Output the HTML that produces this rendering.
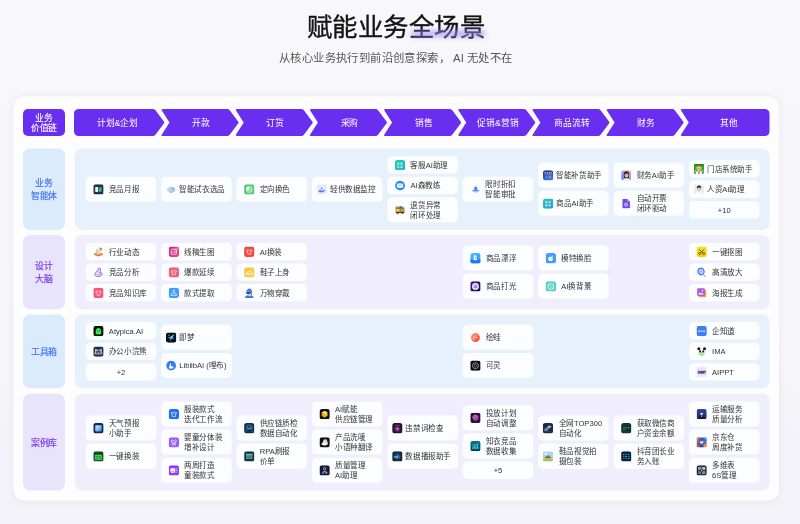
<!DOCTYPE html>
<html lang="zh-CN">
<head>
<meta charset="utf-8">
<title>赋能业务全场景</title>
<style>
html,body{margin:0;padding:0;}
body{width:800px;height:524px;overflow:hidden;background:linear-gradient(180deg,#f8f8fa 0%,#f7f7fa 45%,#f3f2f9 100%);position:relative;}
#stage{position:absolute;left:0;top:0;width:8000px;height:5240px;transform:scale(0.1);transform-origin:0 0;font-family:"Liberation Sans", sans-serif;color:#333;overflow:hidden;}
#stage div,#stage p,#stage h1,#stage svg{position:absolute;margin:0;}
h1{left:0;top:121px;width:7916px;text-align:center;font-size:255px;line-height:300px;font-weight:normal;color:#141414;-webkit-text-stroke:3.8px #141414;}
.glow{left:4110px;top:305px;width:740px;height:65px;border-radius:35px;background:linear-gradient(90deg,rgba(160,135,250,.62),rgba(150,140,250,.68));filter:blur(26px);}
.sub{left:0;top:508px;width:7915px;text-align:center;font-size:113.8px;line-height:150px;color:#555;}
.card{left:135px;top:965px;width:7655px;height:4040px;background:#fdfdfe;border-radius:110px;box-shadow:0 0 70px rgba(90,90,140,.085);}
.hl{left:230px;top:1090px;width:420px;height:270px;border-radius:50px;background:#6a2ef0;color:#fff;font-size:88px;line-height:105px;text-align:center;-webkit-text-stroke:1px #fff;}
.hl span{position:absolute;left:0;right:0;}
.at{top:1091px;height:270px;line-height:270px;color:#fff;font-size:88px;text-align:center;white-space:nowrap;transform:translateX(-50%);}
.lab{left:230px;width:420px;border-radius:70px;font-size:89px;line-height:120px;text-align:center;}
.lab span{position:absolute;left:0;right:0;}
.lab.b{background:#dcebfb;color:#4373f4;-webkit-text-stroke:1.8px #4373f4;}
.lab.p{background:#e8e4fb;color:#7a3af0;-webkit-text-stroke:1.8px #7a3af0;}
.pan{left:750px;width:6945px;border-radius:70px;}
.pan.b{background:#e7f1fb;}
.pan.p{background:#f0eefd;}
.chip{width:705px;background:#fcfdff;border-radius:46px;font-size:76px;line-height:101px;color:#333;white-space:nowrap;}
.chip svg{width:103px;height:103px;}
.chip span{position:absolute;}
.chip.c span{left:0;right:0;text-align:center;}
</style>
</head>
<body>
<div id="stage">
<h1>赋能业务全场景</h1>
<div class="glow"></div>
<p class="sub">从核心业务执行到前沿创意探索， AI 无处不在</p>
<div class="card"></div>
<div class="hl"><span style="top:33px">业务</span><span style="top:138px">价值链</span></div>
<svg style="left:0;top:0;width:8000px;height:5240px" viewBox="0 0 800 524" fill="#6a2ef0"><path d="M79 109 H152.8 Q154.5 109 155.45 110.3 L164.05 121.8 Q164.6 122.5 164.05 123.2 L155.45 134.7 Q154.5 136 152.8 136 H79 Q74 136 74 131 V114 Q74 109 79 109 Z"/><path d="M162.95 109 H227.05 Q228.75 109 229.7 110.3 L238.3 121.8 Q238.85 122.5 238.3 123.2 L229.7 134.7 Q228.75 136 227.05 136 H162.95 Q160.75 136 161.85 134.5 L169.5 122.5 L161.85 110.5 Q160.75 109 162.95 109 Z"/><path d="M237.13 109 H301.23 Q302.93 109 303.88 110.3 L312.48 121.8 Q313.03 122.5 312.48 123.2 L303.88 134.7 Q302.93 136 301.23 136 H237.13 Q234.93 136 236.03 134.5 L243.68 122.5 L236.03 110.5 Q234.93 109 237.13 109 Z"/><path d="M311.31 109 H375.41 Q377.11 109 378.06 110.3 L386.66 121.8 Q387.21 122.5 386.66 123.2 L378.06 134.7 Q377.11 136 375.41 136 H311.31 Q309.11 136 310.21 134.5 L317.86 122.5 L310.21 110.5 Q309.11 109 311.31 109 Z"/><path d="M385.49 109 H449.59 Q451.29 109 452.24 110.3 L460.84 121.8 Q461.39 122.5 460.84 123.2 L452.24 134.7 Q451.29 136 449.59 136 H385.49 Q383.29 136 384.39 134.5 L392.04 122.5 L384.39 110.5 Q383.29 109 385.49 109 Z"/><path d="M459.67 109 H523.77 Q525.47 109 526.42 110.3 L535.02 121.8 Q535.57 122.5 535.02 123.2 L526.42 134.7 Q525.47 136 523.77 136 H459.67 Q457.47 136 458.57 134.5 L466.22 122.5 L458.57 110.5 Q457.47 109 459.67 109 Z"/><path d="M533.85 109 H597.95 Q599.65 109 600.6 110.3 L609.2 121.8 Q609.75 122.5 609.2 123.2 L600.6 134.7 Q599.65 136 597.95 136 H533.85 Q531.65 136 532.75 134.5 L540.4 122.5 L532.75 110.5 Q531.65 109 533.85 109 Z"/><path d="M608.03 109 H672.13 Q673.83 109 674.78 110.3 L683.38 121.8 Q683.93 122.5 683.38 123.2 L674.78 134.7 Q673.83 136 672.13 136 H608.03 Q605.83 136 606.93 134.5 L614.58 122.5 L606.93 110.5 Q605.83 109 608.03 109 Z"/><path d="M682.21 109 H764.5 Q769.5 109 769.5 114 V131 Q769.5 136 764.5 136 H682.21 Q680.01 136 681.11 134.5 L688.76 122.5 L681.11 110.5 Q680.01 109 682.21 109 Z"/></svg>
<div class="at" style="left:1175px">计划&amp;企划</div>
<div class="at" style="left:2011px">开款</div>
<div class="at" style="left:2752.8px">订货</div>
<div class="at" style="left:3494.6px">采购</div>
<div class="at" style="left:4236.4px">销售</div>
<div class="at" style="left:4978.2px">促销&amp;营销</div>
<div class="at" style="left:5720px">商品流转</div>
<div class="at" style="left:6461.8px">财务</div>
<div class="at" style="left:7286px">其他</div>
<div class="lab b" style="top:1485px;height:815px"><span style="top:285.5px">业务</span><span style="top:413.5px">智能体</span></div>
<div class="pan b" style="top:1485px;height:815px"></div>
<div class="chip" style="left:857.5px;top:1767.5px;height:250px"><svg viewBox="0 0 24 24" style="left:75.5px;top:75.5px"><rect width="24" height="24" rx="6.2" fill="#1f2f57"/><rect x="4.5" y="6" width="6.5" height="12" rx="1" fill="#f4f7fb"/><rect x="12.2" y="6" width="7.3" height="12" rx="1" fill="#2e9e5b"/><path d="M13.5 15.5 L15.5 12.5 L16.8 13.8 L18.8 9.5" stroke="#8ff0a8" stroke-width="1.3" fill="none"/></svg><span style="left:231px;top:77.5px">竞品月报</span></div>
<div class="chip" style="left:1611.5px;top:1767.5px;height:250px"><svg viewBox="0 0 24 24" style="left:48.5px;top:75.5px"><path d="M3 11 L11 6 L21 9 L20 16 L11 20 L4 16 Z" fill="#e2f3f2"/><path d="M3 11 L11 6 L21 9 L12 12.5 Z" fill="#b7e2e3"/><path d="M12 12.5 L21 9 L20 16 L11 20 Z" fill="#b9bfee" opacity=".85"/><path d="M3 11 L11 6 L21 9 L20 16 L11 20 L4 16 Z M12 12.5 L11 20" fill="none" stroke="#7fb6c4" stroke-width="1"/><path d="M6 12.4 L9.6 14 L9.2 17" stroke="#5fae7a" stroke-width="1.5" fill="none"/><circle cx="15.2" cy="10" r="1.9" fill="#7a74d6"/></svg><span style="left:181px;top:77.5px">智能试衣选品</span></div>
<div class="chip" style="left:2365.5px;top:1767.5px;height:250px"><svg viewBox="0 0 24 24" style="left:75.5px;top:75.5px"><rect width="24" height="24" rx="6.2" fill="#4fcb73"/><rect x="6" y="5.8" width="12" height="12.4" rx="1.8" fill="none" stroke="#fff" stroke-width="1.7"/><rect x="6.5" y="6.3" width="5.5" height="7.2" fill="#fff"/><circle cx="14.8" cy="10" r="1.4" fill="#fff"/><path d="M6.5 15.2 H17.5" stroke="#fff" stroke-width="1.4"/></svg><span style="left:231px;top:77.5px">定向换色</span></div>
<div class="chip" style="left:3119.5px;top:1767.5px;height:250px"><svg viewBox="0 0 24 24" style="left:48.5px;top:75.5px"><rect width="24" height="24" rx="6.2" fill="#e6ebfb"/><path d="M8.5 9.5 C9.5 6.5 14.5 6.5 15.5 9.5 C14 11 10 11 8.5 9.5 Z" fill="#7fa3f5"/><path d="M4.5 14.5 C7 12.5 9 13 11 14.2 C13 15.2 15 13.8 17 13 C18.5 12.5 19.8 13.2 19.5 14.5 C17 17.5 13 19.5 9 18.6 L4.5 17.8 Z" fill="#4f7df0"/><path d="M11 8 V12" stroke="#3f6ae0" stroke-width="1.3"/></svg><span style="left:181px;top:77.5px">轻供数据监控</span></div>
<div class="chip" style="left:3873.5px;top:1562px;height:174px"><svg viewBox="0 0 24 24" style="left:75.5px;top:37.5px"><defs><linearGradient id="g1" x1="0" y1="0" x2="1" y2="1"><stop offset="0" stop-color="#20d29a"/><stop offset="1" stop-color="#22aede"/></linearGradient></defs><rect width="24" height="24" rx="6.2" fill="url(#g1)"/><path d="M5.6 6.8 H10.2 M7.8999999999999995 5.8 V6.8 M6.0 8.4 H9.8 V10.399999999999999 H6.0 Z M6.0 9.4 H9.8" stroke="#fff" stroke-width=".95" fill="none"/><path d="M13.0 6.8 H17.6 M15.3 5.8 V6.8 M13.4 8.4 H17.2 V10.399999999999999 H13.4 Z M13.4 9.4 H17.2" stroke="#fff" stroke-width=".95" fill="none"/><path d="M5.6 14.2 H10.2 M7.8999999999999995 13.2 V14.2 M6.0 15.799999999999999 H9.8 V17.799999999999997 H6.0 Z M6.0 16.8 H9.8" stroke="#fff" stroke-width=".95" fill="none"/><path d="M13.0 14.2 H17.6 M15.3 13.2 V14.2 M13.4 15.799999999999999 H17.2 V17.799999999999997 H13.4 Z M13.4 16.8 H17.2" stroke="#fff" stroke-width=".95" fill="none"/></svg><span style="left:231px;top:39.5px">客服AI助理</span></div>
<div class="chip" style="left:3873.5px;top:1767.5px;height:174px"><svg viewBox="0 0 24 24" style="left:75.5px;top:37.5px"><circle cx="12" cy="12" r="11.4" fill="#2d90e8"/><rect x="5.2" y="7" width="13.6" height="10" rx="1.6" fill="#fff"/><path d="M6.4 8.4 L12 12.8 L17.6 8.4" stroke="#2d90e8" stroke-width="1.2" fill="none"/><path d="M6.4 15.8 L10 12.4 M17.6 15.8 L14 12.4" stroke="#8fc4f4" stroke-width=".9" fill="none"/></svg><span style="left:231px;top:39.5px">AI森教练</span></div>
<div class="chip" style="left:3873.5px;top:1973px;height:250px"><svg viewBox="0 0 24 24" style="left:75.5px;top:75.5px"><path d="M2 4.5 H11 V3 H16 V6 H22 V18 H2 Z" fill="#7a5526"/><rect x="2" y="4.5" width="9" height="4" fill="#b98a30"/><rect x="3.2" y="9.4" width="8.2" height="6.6" fill="#ecc74e"/><rect x="4.6" y="10.8" width="2.6" height="2.6" fill="#fbe9a0"/><rect x="12.6" y="8" width="8.2" height="8" fill="#c9a040"/><rect x="15" y="4" width="3.4" height="6" fill="#2f8f7a"/><rect x="18.4" y="9.4" width="2.4" height="3" fill="#58c0a8"/><rect x="2" y="16.6" width="20" height="2.2" fill="#4a3218"/><rect x="4.4" y="17.4" width="4" height="4" fill="#3a2a16"/><rect x="15.6" y="17.4" width="4" height="4" fill="#3a2a16"/><rect x="5.4" y="18.4" width="2" height="2" fill="#d9b24a"/><rect x="16.6" y="18.4" width="2" height="2" fill="#d9b24a"/></svg><span style="left:231px;top:27px">退货异常<br>闭环处理</span></div>
<div class="chip" style="left:4627.5px;top:1767.5px;height:250px"><svg viewBox="0 0 24 24" style="left:78.5px;top:75.5px"><path d="M12 4.5 L17 10 H7 Z" fill="#3f6df0"/><rect x="9.8" y="8" width="4.4" height="5" fill="#3f6df0"/><path d="M3 14 L12 11 L21 14 L12 17.2 Z" fill="#5b8cf6"/><path d="M3 16.4 L12 19.8 L21 16.4 L21 14.6 L12 18 L3 14.6 Z" fill="#9ec0fb"/></svg><span style="left:226px;top:27px">限时折扣<br>智能审批</span></div>
<div class="chip" style="left:5381.5px;top:1626.75px;height:250px"><svg viewBox="0 0 24 24" style="left:48.5px;top:75.5px"><defs><linearGradient id="g2" x1="0" y1="0" x2="0.3" y2="1"><stop offset="0" stop-color="#1d2a66"/><stop offset="1" stop-color="#3f73dc"/></linearGradient></defs><rect width="24" height="24" rx="6.2" fill="url(#g2)"/><rect x="3.5" y="5" width="4" height="2.4" fill="#e8eefc"/><rect x="9" y="5" width="2.4" height="2.4" fill="#e8eefc"/><rect x="13" y="5" width="4" height="2.4" fill="#e8eefc"/><rect x="18.5" y="5" width="2.2" height="2.4" fill="#e8eefc"/><rect x="3.5" y="9" width="17" height="1.2" fill="#8fb0f0" opacity=".8"/><rect x="5" y="12.5" width="6" height="6" fill="#5f8ff0" opacity=".7"/><rect x="13" y="12.5" width="6" height="6" fill="#86b0ff" opacity=".7"/></svg><span style="left:181px;top:77.5px">智能补货助手</span></div>
<div class="chip" style="left:5381.5px;top:1908.25px;height:250px"><svg viewBox="0 0 24 24" style="left:48.5px;top:75.5px"><defs><linearGradient id="g3" x1="0" y1="0" x2="1" y2="1"><stop offset="0" stop-color="#23cf9c"/><stop offset="1" stop-color="#2a98ee"/></linearGradient></defs><rect width="24" height="24" rx="6.2" fill="url(#g3)"/><path d="M5.6 6.8 H10.2 M7.8999999999999995 5.8 V6.8 M6.0 8.4 H9.8 V10.399999999999999 H6.0 Z M6.0 9.4 H9.8" stroke="#fff" stroke-width=".95" fill="none"/><path d="M13.0 6.8 H17.6 M15.3 5.8 V6.8 M13.4 8.4 H17.2 V10.399999999999999 H13.4 Z M13.4 9.4 H17.2" stroke="#fff" stroke-width=".95" fill="none"/><path d="M5.6 14.2 H10.2 M7.8999999999999995 13.2 V14.2 M6.0 15.799999999999999 H9.8 V17.799999999999997 H6.0 Z M6.0 16.8 H9.8" stroke="#fff" stroke-width=".95" fill="none"/><path d="M13.0 14.2 H17.6 M15.3 13.2 V14.2 M13.4 15.799999999999999 H17.2 V17.799999999999997 H13.4 Z M13.4 16.8 H17.2" stroke="#fff" stroke-width=".95" fill="none"/></svg><span style="left:181px;top:77.5px">商品AI助手</span></div>
<div class="chip" style="left:6135.5px;top:1626.75px;height:250px"><svg viewBox="0 0 24 24" style="left:75.5px;top:75.5px"><defs><linearGradient id="g4" x1="0.9" y1="0" x2="0.1" y2="1"><stop offset="0" stop-color="#f0a2e0"/><stop offset="1" stop-color="#4f8cf6"/></linearGradient></defs><clipPath id="g4c"><rect width="24" height="24" rx="6.2"/></clipPath><g clip-path="url(#g4c)"><rect width="24" height="24" fill="url(#g4)"/><path d="M5 24 C5 19.5 8.5 18 12.6 18 C16.6 18 20 19.5 20.5 24 Z" fill="#f4f1f5"/><path d="M6.4 13 C5 5.6 9.4 2.6 12.8 2.6 C16.8 2.6 20.2 6 18.6 13.2 L18.2 18.6 H7 Z" fill="#33262c"/><ellipse cx="12.7" cy="11.8" rx="4.6" ry="5.5" fill="#f1c9b3"/><path d="M8.2 9.4 C9.8 6.2 15.4 5.8 17.4 9.6 C15 9 11.4 8.6 8.2 10.4 Z" fill="#33262c"/><path d="M8.8 11.6 H11.8 M13.6 11.6 H16.6" stroke="#5a4550" stroke-width="1.1"/><path d="M11.4 15 Q12.7 15.8 14 15" stroke="#c06a6a" stroke-width=".9" fill="none"/></g></svg><span style="left:231px;top:77.5px">财务AI助手</span></div>
<div class="chip" style="left:6135.5px;top:1908.25px;height:250px"><svg viewBox="0 0 24 24" style="left:75.5px;top:75.5px"><path d="M3.2 3.4 Q3.2 1.2 5.4 1.2 H14 L20.6 7.8 V20.8 Q20.6 23 18.4 23 H5.4 Q3.2 23 3.2 20.8 Z" fill="#6a48f2"/><path d="M14 1.2 L20.6 7.8 H16 Q14 7.8 14 5.8 Z" fill="#a996fa"/><circle cx="11.6" cy="14.4" r="3.6" fill="none" stroke="#fff" stroke-width="1.7"/><circle cx="11.6" cy="14.4" r="1.1" fill="#fff"/></svg><span style="left:231px;top:27px">自动开票<br>闭环驱动</span></div>
<div class="chip" style="left:6889.5px;top:1600px;height:174px"><svg viewBox="0 0 24 24" style="left:48.5px;top:37.5px"><clipPath id="g5"><rect width="24" height="24" rx="5"/></clipPath><g clip-path="url(#g5)"><rect width="24" height="24" fill="#2f9e41"/><rect x="0" y="0" width="24" height="4" fill="#257f34"/><path d="M5.5 10 C5.5 4.5 18.5 4.5 18.5 10 Z" fill="#f3d23a"/><rect x="4.5" y="9.4" width="15" height="2.2" fill="#e8b92a"/><rect x="7" y="11.6" width="10" height="6.4" fill="#f4cfa8"/><rect x="8.6" y="13.4" width="2" height="2" fill="#3a2a20"/><rect x="13.4" y="13.4" width="2" height="2" fill="#3a2a20"/><rect x="5" y="18" width="14" height="6" fill="#fff"/><rect x="10.5" y="18" width="3" height="6" fill="#d94a3a"/><rect x="2" y="14" width="3" height="6" fill="#8fd07a"/><rect x="19" y="14" width="3" height="6" fill="#8fd07a"/></g></svg><span style="left:181px;top:39.5px">门店系统助手</span></div>
<div class="chip" style="left:6889.5px;top:1805.5px;height:174px"><svg viewBox="0 0 24 24" style="left:48.5px;top:37.5px"><clipPath id="g6"><rect width="24" height="24" rx="5.5"/></clipPath><g clip-path="url(#g6)"><rect width="24" height="24" fill="#e9ebee"/><path d="M3.5 24 C3.5 18.5 8 17 12 17 C16 17 20.5 18.5 20.5 24 Z" fill="#fafafa"/><path d="M10 17 L12 20.5 L14 17 Z" fill="#d9c4b5"/><ellipse cx="12" cy="11" rx="4.2" ry="5.2" fill="#f2d3c0"/><path d="M7.2 10.5 C6.2 4.5 10 2.6 12.6 2.8 C16.5 3 18 6.5 16.9 10.8 C16 8.6 15 7.6 13.6 7 C12 8 9.5 8.4 8.2 8.6 Z" fill="#201c1e"/><path d="M9.3 11.3 H11 M13.2 11.3 H14.9" stroke="#4a3b3b" stroke-width=".9"/><path d="M10.6 14.3 Q12 15 13.4 14.3" stroke="#c47a70" stroke-width=".8" fill="none"/></g></svg><span style="left:181px;top:39.5px">人资AI助理</span></div>
<div class="chip c" style="left:6889.5px;top:2011px;height:174px"><span style="top:39.5px">+10</span></div>
<div class="lab p" style="top:2350px;height:742.5px"><span style="top:249.25px">设计</span><span style="top:377.25px">大脑</span></div>
<div class="pan p" style="top:2350px;height:742.5px"></div>
<div class="chip" style="left:857.5px;top:2428.75px;height:174px"><svg viewBox="0 0 24 24" style="left:75.5px;top:37.5px"><path d="M1.5 16.2 L12 12.6 L22.5 16.2 L12 20.4 Z" fill="#f79a4a"/><path d="M1.5 16.2 V18.8 L12 23 L22.5 18.8 V16.2 L12 20.4 Z" fill="#e86a1f"/><path d="M6 6.4 L12.6 4 L17.6 5.8 V15 L11 17.6 L6 15.6 Z" fill="#e6d8d2"/><path d="M6 6.4 L11 8.4 L17.6 5.8 L12.6 4 Z" fill="#fbf6f3"/><path d="M11 8.4 V17.6 L6 15.6 V6.4 Z" fill="#cfc0ba"/><path d="M14.6 1.6 L20.4 3.8 V9.2 L14.6 7.2 Z" fill="#f47b30"/><path d="M8 10.5 L9.6 11.2 M8 13 L9.6 13.7" stroke="#f7efe9" stroke-width="1"/></svg><span style="left:231px;top:39.5px">行业动态</span></div>
<div class="chip" style="left:857.5px;top:2634.25px;height:174px"><svg viewBox="0 0 24 24" style="left:75.5px;top:37.5px"><path d="M14.2 2.6 C10.6 3 9.4 6 11.4 8.4 C6.6 10 3.4 13.4 3.8 17.6 C4.2 21 8.6 22 13 21.6 C17.8 21.2 21 19 20.6 15.6 C20.2 12.8 17 12.4 14.4 13.4 C17 10.2 17.4 6.4 16 3.6 Z" fill="#eadffd" stroke="#9060f0" stroke-width="2.2" stroke-linejoin="round"/><path d="M7.6 16.4 C10.4 18.8 15.4 18.4 17.6 16" stroke="#a883f5" stroke-width="1.6" fill="none"/><path d="M14.2 2.6 L19 3.6 L16.2 5.6 Z" fill="#9060f0"/></svg><span style="left:231px;top:39.5px">竞品分析</span></div>
<div class="chip" style="left:857.5px;top:2839.75px;height:174px"><svg viewBox="0 0 24 24" style="left:75.5px;top:37.5px"><rect width="24" height="24" rx="6.2" fill="#f1597b"/><path transform="translate(12 12.3) scale(.93) translate(-12 -12)" d="M8.6 6.4 L5 8.6 L6.5 11.4 L8.2 10.6 V17.6 H15.8 V10.6 L17.5 11.4 L19 8.6 L15.4 6.4 C14.8 7.7 13.5 8.3 12 8.3 C10.5 8.3 9.2 7.7 8.6 6.4 Z" fill="none" stroke="#fff" stroke-width="1.35" stroke-linejoin="round"/></svg><span style="left:231px;top:39.5px">竞品知识库</span></div>
<div class="chip" style="left:1611.5px;top:2428.75px;height:174px"><svg viewBox="0 0 24 24" style="left:75.5px;top:37.5px"><defs><linearGradient id="g7" x1="0" y1="0" x2="1" y2="1"><stop offset="0" stop-color="#cf1f93"/><stop offset="1" stop-color="#ea4d78"/></linearGradient></defs><rect width="24" height="24" rx="6.2" fill="url(#g7)"/><rect x="5.8" y="6" width="12.4" height="12" rx="2" fill="none" stroke="#fff" stroke-width="1.7"/><path d="M6.5 15.5 L10 11.5 L12.5 14 L14.5 12 L17.5 15" stroke="#fff" stroke-width="1.4" fill="none"/><circle cx="14.8" cy="9.4" r="1.3" fill="#fff"/><path d="M15.5 3.5 L20.5 3.5 L20.5 8.5" stroke="#ffd0e4" stroke-width="1.3" fill="none"/></svg><span style="left:231px;top:39.5px">线稿生图</span></div>
<div class="chip" style="left:1611.5px;top:2634.25px;height:174px"><svg viewBox="0 0 24 24" style="left:75.5px;top:37.5px"><rect width="24" height="24" rx="6.2" fill="#f1607d"/><path transform="translate(12 12.3) scale(.93) translate(-12 -12)" d="M8.6 6.4 L5 8.6 L6.5 11.4 L8.2 10.6 V17.6 H15.8 V10.6 L17.5 11.4 L19 8.6 L15.4 6.4 C14.8 7.7 13.5 8.3 12 8.3 C10.5 8.3 9.2 7.7 8.6 6.4 Z" fill="none" stroke="#fff" stroke-width="1.35" stroke-linejoin="round"/></svg><span style="left:231px;top:39.5px">爆款延续</span></div>
<div class="chip" style="left:1611.5px;top:2839.75px;height:174px"><svg viewBox="0 0 24 24" style="left:75.5px;top:37.5px"><rect width="24" height="24" rx="6.2" fill="#3f9ef9"/><path d="M12 11 V9.6 C14.4 9 14.2 5.6 12 5.6 C10.6 5.6 9.8 6.6 9.9 7.6" stroke="#fff" stroke-width="1.6" fill="none" stroke-linecap="round"/><path d="M12 11 L19 16.2 Q19.4 17.8 17.8 17.8 H6.2 Q4.6 17.8 5 16.2 Z" stroke="#fff" stroke-width="1.6" fill="none" stroke-linejoin="round"/></svg><span style="left:231px;top:39.5px">款式提取</span></div>
<div class="chip" style="left:2365.5px;top:2428.75px;height:174px"><svg viewBox="0 0 24 24" style="left:75.5px;top:37.5px"><rect width="24" height="24" rx="6.2" fill="#f5463f"/><path transform="translate(12 12.3) scale(.93) translate(-12 -12)" d="M8.6 6.4 L5 8.6 L6.5 11.4 L8.2 10.6 V17.6 H15.8 V10.6 L17.5 11.4 L19 8.6 L15.4 6.4 C14.8 7.7 13.5 8.3 12 8.3 C10.5 8.3 9.2 7.7 8.6 6.4 Z" fill="none" stroke="#fff" stroke-width="1.6" stroke-linejoin="round"/></svg><span style="left:231px;top:39.5px">AI换装</span></div>
<div class="chip" style="left:2365.5px;top:2634.25px;height:174px"><svg viewBox="0 0 24 24" style="left:75.5px;top:37.5px"><rect width="24" height="24" rx="6.2" fill="#f6c945"/><path d="M5 17.4 V13.6 C5 12.4 6 12 7 12.4 L9.4 13.2 C10 9.6 12.4 8 14.4 8.4 C16 8.8 16.4 10.4 16.6 11.6 C18.4 12 19.6 13.2 19.6 14.8 V17.4 Z" fill="none" stroke="#fff" stroke-width="1.5" stroke-linejoin="round"/><path d="M5 15.4 H19.6" stroke="#fff" stroke-width="1.1"/></svg><span style="left:231px;top:39.5px">鞋子上身</span></div>
<div class="chip" style="left:2365.5px;top:2839.75px;height:174px"><svg viewBox="0 0 24 24" style="left:75.5px;top:37.5px"><path d="M2 24 C2.5 18.6 7 17 12 17 C17 17 21.5 18.6 22 24 Z" fill="#2f7de8"/><path d="M9 15.4 H14.6 V18.6 L11.8 20 L9 18.6 Z" fill="#eec2a8"/><ellipse cx="11.6" cy="12.4" rx="4.6" ry="5" fill="#f1c9ae"/><path d="M5.6 10.4 C5 4 9.6 1.4 13 1.8 C17.4 2.2 19 6.4 18.4 10.8 C15 9 9 8.8 5.6 10.4 Z" fill="#3c86ee"/><path d="M3.4 11.2 C7.6 8.6 15.6 8.8 19 11 L18.6 12.6 C15 11 8.6 11 4.4 12.6 C3.4 12.6 3 11.8 3.4 11.2 Z" fill="#2b66cc"/><path d="M5.4 11.8 C8.4 10.8 12 10.8 14.6 11.4 V14 C12 14.8 8 14.8 5.6 14 Z" fill="#2a2f44"/><path d="M16.6 11.6 C18.4 13.6 18 16.4 16.4 17.6 L15.8 12 Z" fill="#2a2f44"/></svg><span style="left:231px;top:39.5px">万物穿戴</span></div>
<div class="chip" style="left:4627.5px;top:2455.5px;height:250px"><svg viewBox="0 0 24 24" style="left:75.5px;top:75.5px"><defs><linearGradient id="g8" x1="0" y1="0" x2="0.4" y2="1"><stop offset="0" stop-color="#43c4ff"/><stop offset="1" stop-color="#2f97ff"/></linearGradient></defs><rect width="24" height="24" rx="6.2" fill="url(#g8)"/><path d="M0 15.5 C5 13.5 9 17.5 14 16 C18 14.8 21 14.6 24 15.6 V18 Q24 24 18 24 H6 Q0 24 0 18 Z" fill="#1f78f2"/><path d="M9 5 H13.6 V7.6 C15 8.4 15.4 9.6 15.4 11 V16.4 C13 17.2 10 16.6 7.4 15.4 V11 C7.4 9.6 7.8 8.4 9 7.6 Z" fill="#fff" opacity=".96"/><rect x="11.6" y="9.4" width="2" height="4.6" rx=".6" fill="#3f9cff"/></svg><span style="left:231px;top:77.5px">商品漂浮</span></div>
<div class="chip" style="left:4627.5px;top:2737px;height:250px"><svg viewBox="0 0 24 24" style="left:75.5px;top:75.5px"><defs><radialGradient id="g9" cx="0.45" cy="0.45" r="0.6"><stop offset="0" stop-color="#c9a4ff"/><stop offset="1" stop-color="#8a55ee"/></radialGradient></defs><defs><linearGradient id="g10" x1="0" y1="0" x2="1" y2="1"><stop offset="0" stop-color="#3a1a86"/><stop offset="1" stop-color="#1f0e4e"/></linearGradient></defs><rect width="24" height="24" rx="6.2" fill="url(#g10)"/><circle cx="12" cy="12" r="7.9" fill="#fff"/><circle cx="12" cy="12" r="4.9" fill="url(#g9)"/><circle cx="10.4" cy="10.4" r="1.3" fill="#efe2ff" opacity=".8"/></svg><span style="left:231px;top:77.5px">商品打光</span></div>
<div class="chip" style="left:5381.5px;top:2455.5px;height:250px"><svg viewBox="0 0 24 24" style="left:75.5px;top:75.5px"><rect width="24" height="24" rx="6.2" fill="#4a9bff"/><path d="M11 8.6 C14.4 8.6 16.6 10.8 16.6 13.6 C16.6 16.6 14.2 18.4 11.2 18.4 C8.2 18.4 6 16.4 6 13.6 C6 10.8 8 8.6 11 8.6 Z" fill="#fff"/><path d="M13.4 8.2 C14 6.6 15.8 6 17.2 6.8 C16.2 7.4 15.6 8.4 15.6 9.6 Z" fill="#fff" opacity=".95"/><circle cx="12.6" cy="12.6" r="1.2" fill="#7db8ff"/></svg><span style="left:231px;top:77.5px">模特换脸</span></div>
<div class="chip" style="left:5381.5px;top:2737px;height:250px"><svg viewBox="0 0 24 24" style="left:75.5px;top:75.5px"><rect width="24" height="24" rx="6.2" fill="#50d0c0"/><rect x="5.6" y="5.6" width="12.8" height="12.8" rx="2.2" fill="none" stroke="#fff" stroke-width="1.6"/><path d="M6.4 6.6 L17.6 17.4" stroke="#fff" stroke-width="1.4"/><path d="M6 13.5 L10.5 18" stroke="#fff" stroke-width="1.2"/><circle cx="14.6" cy="9.2" r="1.3" fill="#fff"/></svg><span style="left:231px;top:77.5px">AI换背景</span></div>
<div class="chip" style="left:6889.5px;top:2428.75px;height:174px"><svg viewBox="0 0 24 24" style="left:75.5px;top:37.5px"><defs><linearGradient id="g11" x1="0" y1="0" x2="0" y2="1"><stop offset="0" stop-color="#fbe21a"/><stop offset="1" stop-color="#f6cf0a"/></linearGradient></defs><rect width="24" height="24" rx="6.2" fill="url(#g11)"/><circle cx="7.4" cy="16" r="2.5" fill="none" stroke="#4a4a12" stroke-width="1.7"/><circle cx="16.6" cy="16" r="2.5" fill="none" stroke="#4a4a12" stroke-width="1.7"/><path d="M9 14.4 L17.4 6.6 M15 14.4 L6.6 6.6" stroke="#4a4a12" stroke-width="1.9" stroke-linecap="round"/></svg><span style="left:231px;top:39.5px">一键抠图</span></div>
<div class="chip" style="left:6889.5px;top:2634.25px;height:174px"><svg viewBox="0 0 24 24" style="left:75.5px;top:37.5px"><ellipse cx="10.6" cy="9.8" rx="6.8" ry="7.6" fill="#dfe9ff" stroke="#3f70f0" stroke-width="3" transform="rotate(-25 10.6 9.8)"/><ellipse cx="10.2" cy="9.4" rx="3" ry="3.8" fill="#8fb0ff" transform="rotate(-25 10.2 9.4)"/><path d="M15.6 17 L20 21.4" stroke="#aab4c8" stroke-width="3.2" stroke-linecap="round"/></svg><span style="left:231px;top:39.5px">高清放大</span></div>
<div class="chip" style="left:6889.5px;top:2839.75px;height:174px"><svg viewBox="0 0 24 24" style="left:75.5px;top:37.5px"><rect x="5" y="5" width="17.5" height="17.5" rx="3" fill="#f59b2f"/><rect x="1.5" y="1.5" width="18" height="18" rx="3.2" fill="#a65de2"/><path d="M4 16 L8.2 10.5 L11.2 13.8 L13.4 11.6 L17 16 Z" fill="#fff"/><circle cx="14" cy="7" r="1.7" fill="#fff"/></svg><span style="left:231px;top:39.5px">海报生成</span></div>
<div class="lab b" style="top:3145px;height:737.5px"><span style="top:317.75px">工具箱</span></div>
<div class="pan b" style="top:3145px;height:737.5px"></div>
<div class="chip" style="left:857.5px;top:3221.25px;height:174px"><svg viewBox="0 0 24 24" style="left:75.5px;top:37.5px"><rect width="24" height="24" rx="6.2" fill="#0a0d0a"/><path d="M5.6 20.4 V10.8 C5.6 2.6 18.4 2.6 18.4 10.8 V20.4 L16.3 18.6 L14.1 20.4 L12 18.6 L9.9 20.4 L7.7 18.6 Z" fill="#37e84a"/><rect x="8.8" y="9.6" width="2" height="3" rx=".7" fill="#0f6a22"/><rect x="13.2" y="9.6" width="2" height="3" rx=".7" fill="#0f6a22"/></svg><span style="left:231px;top:39.5px">Atypica.AI</span></div>
<div class="chip" style="left:857.5px;top:3426.75px;height:174px"><svg viewBox="0 0 24 24" style="left:75.5px;top:37.5px"><rect width="24" height="24" rx="6.2" fill="#222c45"/><path d="M3.8 17.6 C3.4 12.4 6 8.4 12 8.4 C18 8.4 20.6 12.4 20.2 17.6 Z" fill="none" stroke="#fff" stroke-width="1.6" stroke-linejoin="round"/><path d="M5 10.8 L5.4 6.2 L9 8.8 M19 10.8 L18.6 6.2 L15 8.8" stroke="#fff" stroke-width="1.5" fill="none" stroke-linejoin="round"/><path d="M4.4 14.6 C7 12.2 10.4 12.6 12 14.6 C13.6 12.6 17 12.2 19.6 14.6" stroke="#fff" stroke-width="1.3" fill="none"/><circle cx="12" cy="16" r="1" fill="#fff"/></svg><span style="left:231px;top:39.5px">办公小浣熊</span></div>
<div class="chip c" style="left:857.5px;top:3632.25px;height:174px"><span style="top:39.5px">+2</span></div>
<div class="chip" style="left:1611.5px;top:3248px;height:250px"><svg viewBox="0 0 24 24" style="left:48.5px;top:75.5px"><rect width="24" height="24" rx="5.6" fill="#0d0f14"/><defs><linearGradient id="g12" x1="0.8" y1="0" x2="0.2" y2="1"><stop offset="0" stop-color="#3ae6ff"/><stop offset="1" stop-color="#2f6dff"/></linearGradient></defs><path d="M20.4 4 L15 10.8 L19.6 14 L13 14.6 L10.2 21 L9.2 14.4 L3.4 11.4 L10.4 10.4 Z" fill="url(#g12)"/><path d="M20.4 4 L13 14.6 L10.4 10.4 Z" fill="#9af0ff" opacity=".5"/><circle cx="7" cy="6.4" r="1.3" fill="#f7c24a"/></svg><span style="left:181px;top:77.5px">即梦</span></div>
<div class="chip" style="left:1611.5px;top:3529.5px;height:250px"><svg viewBox="0 0 24 24" style="left:48.5px;top:75.5px"><circle cx="12" cy="12" r="11.2" fill="#2c7df7"/><path d="M10.4 5.6 C12 6.6 12.4 8.6 11.6 11.6 C11.2 13 11.8 13.8 13.2 13.6 C15.4 13.2 17.4 14.4 17.4 16.2 C17.4 18 15.8 18.6 13.2 18.6 H8.6 C6.8 18.6 6.4 17.6 6.8 16.2 Z" fill="#fff"/></svg><span style="left:181px;top:77.5px">LiblibAI (哩布)</span></div>
<div class="chip" style="left:4627.5px;top:3248px;height:250px"><svg viewBox="0 0 24 24" style="left:75.5px;top:75.5px"><defs><linearGradient id="g13" x1="0.1" y1="0" x2="0.9" y2="1"><stop offset="0" stop-color="#ff9a78"/><stop offset="1" stop-color="#f2402e"/></linearGradient></defs><circle cx="12" cy="12" r="10.4" fill="url(#g13)"/><path d="M6 14.5 C6.5 9.5 11 6.5 16.5 7.2 C12.6 8.4 10 11 9.6 15.4 C9.4 17.6 10.6 19 12.4 19.4 C8.6 20 5.6 18 6 14.5 Z" fill="#ffd2bf" opacity=".75"/><path d="M12.4 12 C14.4 10 17.4 10.6 18.4 13 C16.6 12.6 15 13.4 14.4 15.4 Z" fill="#ffe3d6" opacity=".7"/></svg><span style="left:231px;top:77.5px">绘蛙</span></div>
<div class="chip" style="left:4627.5px;top:3529.5px;height:250px"><svg viewBox="0 0 24 24" style="left:75.5px;top:75.5px"><rect width="24" height="24" rx="6.2" fill="#0c0c0e"/><path d="M12 5.2 C16.4 5.2 18.8 8 18.8 12 C18.8 16 16.4 18.8 12 18.8 C7.6 18.8 5.2 16 5.2 12 C5.2 8 7.6 5.2 12 5.2 Z" fill="none" stroke="#e2e2e6" stroke-width="1.5"/><path d="M9 9.4 C11.4 8 14.8 8.8 15.4 11.6 C15.8 14.4 13.4 16 11 15.2 C9.4 14.6 8.8 13 9.6 11.8" fill="none" stroke="#b9b9c2" stroke-width="1.3" stroke-linecap="round"/></svg><span style="left:231px;top:77.5px">可灵</span></div>
<div class="chip" style="left:6889.5px;top:3221.25px;height:174px"><svg viewBox="0 0 24 24" style="left:75.5px;top:37.5px"><rect width="24" height="24" rx="6.2" fill="#3f7ef9"/><g fill="#fff" opacity=".85"><rect x="4.2" y="10.8" width="4.4" height="2.6" rx=".6"/><rect x="9.8" y="10.8" width="4.4" height="2.6" rx=".6"/><rect x="15.4" y="10.8" width="4.4" height="2.6" rx=".6"/></g></svg><span style="left:231px;top:39.5px">企知道</span></div>
<div class="chip" style="left:6889.5px;top:3426.75px;height:174px"><svg viewBox="0 0 24 24" style="left:75.5px;top:37.5px"><defs><linearGradient id="g14" x1="0" y1="0.45" x2="0" y2="1"><stop offset="0" stop-color="#f4f7f2"/><stop offset="1" stop-color="#63df3c"/></linearGradient></defs><circle cx="5.4" cy="5.6" r="3.6" fill="#151515"/><circle cx="18.6" cy="5.6" r="3.6" fill="#151515"/><path d="M3 12 C3 5.6 21 5.6 21 12 C21 18.4 18 21.6 12 21.6 C6 21.6 3 18.4 3 12 Z" fill="url(#g14)"/><ellipse cx="8.2" cy="11.6" rx="2.3" ry="2.8" fill="#151515" transform="rotate(20 8.2 11.6)"/><ellipse cx="15.8" cy="11.6" rx="2.3" ry="2.8" fill="#151515" transform="rotate(-20 15.8 11.6)"/><ellipse cx="12" cy="14.6" rx="1.3" ry=".9" fill="#151515"/></svg><span style="left:231px;top:39.5px">IMA</span></div>
<div class="chip" style="left:6889.5px;top:3632.25px;height:174px"><svg viewBox="0 0 24 24" style="left:75.5px;top:37.5px"><rect width="24" height="24" rx="4.5" fill="#ece3fd"/><rect x="2.6" y="9" width="3.2" height="6.6" rx=".6" fill="#8a4ff0"/><g fill="#221a3a"><rect x="6.6" y="9" width="2.2" height="6.6"/><rect x="9.6" y="9" width="3.4" height="6.6" rx=".8"/><rect x="13.8" y="9" width="3.4" height="6.6" rx=".8"/><rect x="18" y="9" width="3.6" height="2"/><rect x="18.9" y="9" width="1.8" height="6.6"/></g><rect x="10.6" y="10.4" width="1.4" height="1.6" fill="#ece3fd"/><rect x="14.8" y="10.4" width="1.4" height="1.6" fill="#ece3fd"/></svg><span style="left:231px;top:39.5px">AIPPT</span></div>
<div class="lab p" style="top:3937.5px;height:967.5px"><span style="top:432.75px">案例库</span></div>
<div class="pan p" style="top:3937.5px;height:967.5px"></div>
<div class="chip" style="left:857.5px;top:4155.5px;height:250px"><svg viewBox="0 0 24 24" style="left:75.5px;top:75.5px"><rect width="24" height="24" rx="6.2" fill="#172848"/><defs><linearGradient id="g15" x1="0" y1="0" x2="1" y2="1"><stop offset="0" stop-color="#86ccff"/><stop offset="1" stop-color="#2f80e2"/></linearGradient></defs><rect x="4.2" y="4.2" width="15.6" height="15.6" rx="2.6" fill="url(#g15)"/><path d="M6.4 15.6 C8.4 11.4 13 10 17.4 7.4" stroke="#fff" stroke-width="1.7" fill="none" opacity=".95"/><path d="M7.4 18 C10.4 15.2 14 14.6 17.8 12.4" stroke="#dff1ff" stroke-width="1.4" fill="none" opacity=".9"/><circle cx="9.2" cy="8.8" r="1.9" fill="#fff" opacity=".9"/></svg><span style="left:231px;top:27px">天气预报<br>小助手</span></div>
<div class="chip" style="left:857.5px;top:4437px;height:250px"><svg viewBox="0 0 24 24" style="left:75.5px;top:75.5px"><rect width="24" height="24" rx="6.2" fill="#1a4d26"/><rect x="3.6" y="8.6" width="16.8" height="11.4" rx="1.6" fill="#35d452"/><rect x="3.6" y="3.8" width="16.8" height="3.6" rx="1.2" fill="#0d3216"/><path d="M6.8 5.6 V9.4 M12 5.6 V9.4 M17.2 5.6 V9.4" stroke="#7fe893" stroke-width="1.2"/><rect x="5.8" y="11" width="5.2" height="7" fill="#178a30"/><rect x="13" y="11" width="5.2" height="7" fill="#178a30"/><rect x="7.2" y="12.6" width="2.4" height="3.8" fill="#5df078"/><rect x="14.4" y="12.6" width="2.4" height="3.8" fill="#5df078"/></svg><span style="left:231px;top:77.5px">一键换装</span></div>
<div class="chip" style="left:1611.5px;top:4014.75px;height:250px"><svg viewBox="0 0 24 24" style="left:75.5px;top:75.5px"><rect width="24" height="24" rx="6.2" fill="#1f6fff"/><path transform="translate(12 12.3) scale(.93) translate(-12 -12)" d="M8.6 6.4 L5 8.6 L6.5 11.4 L8.2 10.6 V17.6 H15.8 V10.6 L17.5 11.4 L19 8.6 L15.4 6.4 C14.8 7.7 13.5 8.3 12 8.3 C10.5 8.3 9.2 7.7 8.6 6.4 Z" fill="none" stroke="#fff" stroke-width="1.6" stroke-linejoin="round"/></svg><span style="left:231px;top:27px">服装款式<br>迭代工作流</span></div>
<div class="chip" style="left:1611.5px;top:4296.25px;height:250px"><svg viewBox="0 0 24 24" style="left:75.5px;top:75.5px"><rect width="24" height="24" rx="6.2" fill="#9a5df6"/><path d="M8.6 6.2 L5.6 8.2 L6.8 10.6 L8.4 9.9 V13 H15.6 V9.9 L17.2 10.6 L18.4 8.2 L15.4 6.2 C14.8 7.4 13.4 7.9 12 7.9 C10.6 7.9 9.2 7.4 8.6 6.2 Z" fill="none" stroke="#fff" stroke-width="1.4" stroke-linejoin="round"/><path d="M8.4 14.8 H15.6 L16.2 18.2 H12.8 L12 16.6 L11.2 18.2 H7.8 Z" fill="none" stroke="#fff" stroke-width="1.3" stroke-linejoin="round"/></svg><span style="left:231px;top:27px">婴童分体装<br>增补设计</span></div>
<div class="chip" style="left:1611.5px;top:4577.75px;height:250px"><svg viewBox="0 0 24 24" style="left:75.5px;top:75.5px"><rect width="24" height="24" rx="6.2" fill="#8a3ef2"/><rect x="4" y="7" width="10.5" height="10.5" rx="2.4" fill="#fff"/><path d="M5.5 15.5 L8 11.5 L10 13.5 L11.5 12 L13.4 15.5 Z" fill="#f58ac0"/><circle cx="7.4" cy="9.8" r="1.2" fill="#fbd04a"/><path d="M16 8 H20.4 M16 12 H20.4 M16 16 H19" stroke="#e9d8ff" stroke-width="1.6" stroke-linecap="round"/></svg><span style="left:231px;top:27px">两周打造<br>童装款式</span></div>
<div class="chip" style="left:2365.5px;top:4155.5px;height:250px"><svg viewBox="0 0 24 24" style="left:75.5px;top:75.5px"><rect width="24" height="24" rx="6.2" fill="#15304c"/><defs><radialGradient id="g16" cx="0.5" cy="0.42" r="0.5"><stop offset="0" stop-color="#4fa8f0"/><stop offset="1" stop-color="#15304c"/></radialGradient></defs><rect x="2.5" y="2.5" width="19" height="19" rx="4" fill="url(#g16)"/><circle cx="12" cy="8.6" r="2.6" fill="#0e2238"/><path d="M6.6 19 C7 13.6 17 13.6 17.4 19 Z" fill="#0e2238"/><path d="M3 21 L8 16 M21 21 L16 16" stroke="#6fc0ff" stroke-width="1" opacity=".7"/></svg><span style="left:231px;top:27px">供应链质检<br>数据自动化</span></div>
<div class="chip" style="left:2365.5px;top:4437px;height:250px"><svg viewBox="0 0 24 24" style="left:75.5px;top:75.5px"><rect width="24" height="24" rx="6.2" fill="#173a40"/><rect x="4.6" y="6" width="14.8" height="12" rx="1.2" fill="#5f9c98"/><rect x="4.6" y="6" width="14.8" height="2.4" fill="#86bfb8"/><path d="M4.6 11.6 H19.4 M4.6 14.8 H19.4 M9.6 8.4 V18 M14.6 8.4 V18" stroke="#2c5e60" stroke-width=".9"/></svg><span style="left:231px;top:27px">RPA刷报<br>价单</span></div>
<div class="chip" style="left:3119.5px;top:4014.75px;height:250px"><svg viewBox="0 0 24 24" style="left:75.5px;top:75.5px"><rect width="24" height="24" rx="6.2" fill="#121212"/><path d="M12 4.4 L18.6 8.2 V15.8 L12 19.6 L5.4 15.8 V8.2 Z" fill="#f6c81a"/><path d="M12 4.4 L18.6 8.2 L12 12 L5.4 8.2 Z" fill="#ffe277"/><path d="M12 12 V19.6 L5.4 15.8 V8.2 Z" fill="#e0a80a"/></svg><span style="left:231px;top:27px">AI赋能<br>供应链管理</span></div>
<div class="chip" style="left:3119.5px;top:4296.25px;height:250px"><svg viewBox="0 0 24 24" style="left:75.5px;top:75.5px"><rect width="24" height="24" rx="6.2" fill="#121212"/><path d="M5 17.5 C4.4 13.5 6.4 12 8.6 11.6 C8 7.6 10.4 5 13.4 5 C16.2 5 18 7 17.8 9.6 C19.6 12 19.8 15.4 18.4 17.8 C15 19.6 8.4 19.6 5 17.5 Z" fill="#f2f0ee"/><path d="M15.4 10 L21 11.2 L15.8 12.8 Z" fill="#f58a1f"/><path d="M6.4 16.8 C9.4 18.4 15 18.4 17.8 16.8 C17 19 8 19.4 6.4 16.8 Z" fill="#f0782a"/><circle cx="13.8" cy="8.6" r="1" fill="#121212"/></svg><span style="left:231px;top:27px">产品洗唛<br>小语种翻译</span></div>
<div class="chip" style="left:3119.5px;top:4577.75px;height:250px"><svg viewBox="0 0 24 24" style="left:75.5px;top:75.5px"><rect width="24" height="24" rx="6.2" fill="#141c3a"/><circle cx="12" cy="8" r="2.8" fill="none" stroke="#e8eefc" stroke-width="1.4"/><path d="M6.4 18.6 C6.8 13 17.2 13 17.6 18.6" fill="none" stroke="#e8eefc" stroke-width="1.4"/><circle cx="8.6" cy="17.4" r="2.3" fill="#3f8cff"/><circle cx="15.6" cy="17.4" r="2.3" fill="#f5913a"/><circle cx="12.1" cy="14.6" r="1.6" fill="#3fd08a"/></svg><span style="left:231px;top:27px">质量管理<br>AI助理</span></div>
<div class="chip" style="left:3873.5px;top:4155.5px;height:250px"><svg viewBox="0 0 24 24" style="left:48.5px;top:75.5px"><rect width="24" height="24" rx="6.2" fill="#221628"/><defs><radialGradient id="g17" cx="0.5" cy="0.58" r="0.42"><stop offset="0" stop-color="#a83cb4"/><stop offset="1" stop-color="#221628"/></radialGradient></defs><rect x="1.5" y="1.5" width="21" height="21" rx="5" fill="url(#g17)"/><path d="M5 5.4 C8 3.6 16 3.6 19 5.4 C16 7 8 7 5 5.4 Z" fill="#7a4a30" opacity=".8"/><path d="M12 8 L13 12 L16.6 13.4 L13 14.8 L12 18.6 L11 14.8 L7.4 13.4 L11 12 Z" fill="#d868d8" opacity=".7"/><circle cx="12" cy="13.4" r="1.3" fill="#f2b8f0" opacity=".9"/></svg><span style="left:181px;top:77.5px">违禁词检查</span></div>
<div class="chip" style="left:3873.5px;top:4437px;height:250px"><svg viewBox="0 0 24 24" style="left:48.5px;top:75.5px"><rect width="24" height="24" rx="6.2" fill="#14203a"/><defs><radialGradient id="g18" cx="0.5" cy="0.5" r="0.6"><stop offset="0" stop-color="#2a5a86"/><stop offset="1" stop-color="#14203a"/></radialGradient></defs><rect x="2" y="2" width="20" height="20" rx="4.5" fill="url(#g18)"/><path d="M6.4 13 L13.6 9.4 V16.6 Z" fill="#36c6e8"/><rect x="5" y="11.4" width="3" height="3.6" fill="#5fe0f5"/><path d="M15.6 10.4 C17 11.6 17 14.4 15.6 15.6" stroke="#e860a8" stroke-width="1.4" fill="none" stroke-linecap="round"/></svg><span style="left:181px;top:77.5px">数据播报助手</span></div>
<div class="chip" style="left:4627.5px;top:4052.75px;height:250px"><svg viewBox="0 0 24 24" style="left:75.5px;top:75.5px"><rect width="24" height="24" rx="6.2" fill="#2a1040"/><defs><linearGradient id="g19" x1="0" y1="0" x2="1" y2="1"><stop offset="0" stop-color="#d86ab0"/><stop offset="1" stop-color="#9a3ec8"/></linearGradient></defs><path d="M12 4.4 C16.8 4.4 19.6 8 19.2 12 C18.8 15.8 15.8 18.2 13 17.8 L11 20.2 L10.6 17 C7 16 4.8 13.4 5 10.4 C5.4 6.6 8.4 4.4 12 4.4 Z" fill="url(#g19)"/><circle cx="13.6" cy="9.6" r="2.6" fill="#f3a24e" opacity=".9"/><path d="M9.4 9.6 C11.4 7.6 15.4 8.6 15.6 11.6 C15.8 13.8 13.4 15 11.8 14" stroke="#4a1850" stroke-width="1.2" fill="none" stroke-linecap="round"/></svg><span style="left:231px;top:27px">投放计划<br>自动调整</span></div>
<div class="chip" style="left:4627.5px;top:4334.25px;height:250px"><svg viewBox="0 0 24 24" style="left:75.5px;top:75.5px"><defs><linearGradient id="g20" x1="0" y1="0" x2="0" y2="1"><stop offset="0" stop-color="#0f7086"/><stop offset="1" stop-color="#0c3e55"/></linearGradient></defs><rect width="24" height="24" rx="5.5" fill="url(#g20)"/><g fill="#35d6f4"><rect x="4.6" y="13" width="2.4" height="5.6"/><rect x="8.2" y="10" width="2.4" height="8.6"/><rect x="11.8" y="12" width="2.4" height="6.6"/><rect x="15.4" y="7.4" width="2.4" height="11.2"/></g><path d="M4.6 11 L9.4 7.4 L13 9.6 L19.4 5.6" stroke="#9af0ff" stroke-width="1.2" fill="none"/><rect x="18.6" y="13.6" width="1.8" height="5" fill="#1fa6c8"/></svg><span style="left:231px;top:27px">知衣竞品<br>数据收集</span></div>
<div class="chip c" style="left:4627.5px;top:4615.75px;height:174px"><span style="top:39.5px">+5</span></div>
<div class="chip" style="left:5381.5px;top:4155.5px;height:250px"><svg viewBox="0 0 24 24" style="left:46.5px;top:75.5px"><rect width="24" height="24" rx="6.2" fill="#1b2a45"/><path d="M3.4 14.5 L14 5.4 L20.4 7.2 L10 18.6 L3.4 18.4 Z" fill="#6f90b4" opacity=".9"/><path d="M14 5.4 L20.4 7.2 L16.6 11.4 L10.8 9.4 Z" fill="#a8c2dc" opacity=".9"/><path d="M5 20 H19" stroke="#3c5878" stroke-width="1.6"/></svg><span style="left:206px;top:27px">全网TOP300<br>自动化</span></div>
<div class="chip" style="left:5381.5px;top:4437px;height:250px"><svg viewBox="0 0 24 24" style="left:46.5px;top:75.5px"><clipPath id="g21"><rect width="24" height="24" rx="5.5"/></clipPath><g clip-path="url(#g21)"><rect width="24" height="24" fill="#a5d6f6"/><path d="M0 15 C6 12.5 16 12.5 24 14.5 V24 H0 Z" fill="#c9d874"/><path d="M0 19 C8 17 16 17.5 24 19.5 V24 H0 Z" fill="#a8c25a"/><path d="M4.6 15.4 C5 12.6 6.6 11.6 8.6 12 L11.4 9.4 C13 8.6 14.6 9.6 15.6 11.4 C17 12.8 19.4 13.4 20 15 C20.2 16.2 19.6 16.8 18.4 16.8 H5.6 C4.8 16.8 4.4 16.2 4.6 15.4 Z" fill="#8a6a48"/><path d="M4.8 16 H20 V17 H5.2 Z" fill="#f4efe6"/><circle cx="6" cy="6" r="2.2" fill="#fff" opacity=".8"/><circle cx="9" cy="6.6" r="1.8" fill="#fff" opacity=".8"/></g></svg><span style="left:206px;top:27px">鞋品视觉拍<br>摄包装</span></div>
<div class="chip" style="left:6135.5px;top:4155.5px;height:250px"><svg viewBox="0 0 24 24" style="left:75.5px;top:75.5px"><rect width="24" height="24" rx="6.2" fill="#12363a"/><rect x="3.4" y="7" width="17.2" height="10" rx="1" fill="#0c2426"/><path d="M4.4 10 H14.4" stroke="#2fb278" stroke-width="1.5"/><path d="M4.4 13 H19.6" stroke="#2f8f80" stroke-width="1.1"/><circle cx="17.6" cy="10" r="1.5" fill="#f08a3a"/><path d="M4.4 15.4 H10.4" stroke="#59d6a0" stroke-width="1"/></svg><span style="left:231px;top:27px">获取微信商<br>户资金余额</span></div>
<div class="chip" style="left:6135.5px;top:4437px;height:250px"><svg viewBox="0 0 24 24" style="left:75.5px;top:75.5px"><rect width="24" height="24" rx="6.2" fill="#0f2238"/><g stroke="#2a9fd4" stroke-width="1.7"><path d="M4 7.4 H20 M4 12 H20 M4 16.6 H20"/></g><g fill="#0f2238"><rect x="8" y="6" width="1.6" height="12"/><rect x="14.4" y="6" width="1.6" height="12"/></g><g fill="#6fe0ff"><rect x="4.6" y="6.6" width="2" height="1.6"/><rect x="10.6" y="11.2" width="2.6" height="1.6"/><rect x="17" y="15.8" width="2" height="1.6"/></g></svg><span style="left:231px;top:27px">抖音团长业<br>务入账</span></div>
<div class="chip" style="left:6889.5px;top:4014.75px;height:250px"><svg viewBox="0 0 24 24" style="left:75.5px;top:75.5px"><defs><linearGradient id="g22" x1="0" y1="0" x2="0" y2="1"><stop offset="0" stop-color="#2b46b0"/><stop offset="1" stop-color="#16246a"/></linearGradient></defs><clipPath id="g22c"><rect width="24" height="24" rx="5.5"/></clipPath><g clip-path="url(#g22c)"><rect width="24" height="24" fill="url(#g22)"/><path d="M5 24 C5 17.6 8.6 15.6 12 15.6 C15.4 15.6 19 17.6 19 24 Z" fill="#10172e"/><path d="M10.4 15.6 L12 19.4 L13.6 15.6 Z" fill="#f1f3f8"/><ellipse cx="12" cy="10.4" rx="3.3" ry="4" fill="#edc9b0"/><path d="M8.5 9.6 C8.2 5.6 15.8 5.6 15.5 9.6 C14.4 8 9.6 8 8.5 9.6 Z" fill="#15131a"/></g></svg><span style="left:231px;top:27px">运输服务<br>质量分析</span></div>
<div class="chip" style="left:6889.5px;top:4296.25px;height:250px"><svg viewBox="0 0 24 24" style="left:75.5px;top:75.5px"><clipPath id="g23"><rect width="24" height="24" rx="5.5"/></clipPath><g clip-path="url(#g23)"><rect width="24" height="24" fill="#2a5fd2"/><path d="M0 0 H9 L4 9 L0 11 Z" fill="#e8663a"/><path d="M24 0 V8 L17 5 L15 0 Z" fill="#4f8cf0"/><path d="M0 24 V15 L7 17 L10 24 Z" fill="#d9432f"/><path d="M24 24 H14 L17 16 L24 14 Z" fill="#f08a3a"/><circle cx="12" cy="11" r="4.4" fill="#f2d2b6"/><path d="M7.6 10 C8 5.6 16 5.6 16.4 10 C14.6 8.4 9.4 8.4 7.6 10 Z" fill="#c03a2a"/><path d="M7 24 C7 17.6 17 17.6 17 24 Z" fill="#1f3f9a"/><path d="M3 12 L6 10 M21 12 L18 10" stroke="#fbe08a" stroke-width="1.2"/></g></svg><span style="left:231px;top:27px">京东仓<br>周度补货</span></div>
<div class="chip" style="left:6889.5px;top:4577.75px;height:250px"><svg viewBox="0 0 24 24" style="left:75.5px;top:75.5px"><rect width="24" height="24" rx="6.2" fill="#262c34"/><rect x="3.6" y="4" width="7.4" height="7" rx="1" fill="#8aa2bc"/><rect x="13" y="4" width="7.4" height="7" rx="1" fill="#a9bed4"/><rect x="3.6" y="13" width="7.4" height="7" rx="1" fill="#5f7690"/><rect x="13" y="13" width="7.4" height="7" rx="1" fill="#7a92ac"/><rect x="9.4" y="8.6" width="5.2" height="6.8" rx="1" fill="#1a1f26"/><rect x="10.6" y="10" width="2.8" height="4" fill="#c8d6e6"/></svg><span style="left:231px;top:27px">多维表<br>6S管理</span></div>
</div>
</body>
</html>
